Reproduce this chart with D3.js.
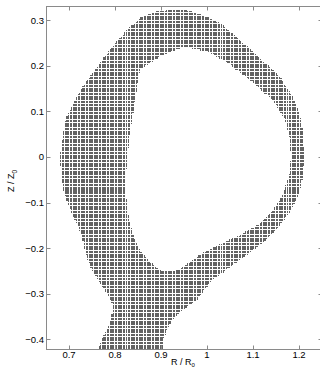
<!DOCTYPE html>
<html>
<head>
<meta charset="utf-8">
<script src="https://cdn.jsdelivr.net/npm/d3@7/dist/d3.min.js"></script>
<style>
  html, body { margin: 0; padding: 0; background: #fff; }
  svg { display: block; }
  text { font-family: Arial, "Liberation Sans", Helvetica, sans-serif; fill: #000; }
</style>
</head>
<body>
<svg id="chart" width="320" height="368"></svg>
<script>
// Outer boundary of the grid region (R/R0, Z/Z0), clockwise from the top
const outerR = [0.924, 0.952, 0.985, 1.028, 1.072, 1.115, 1.159, 1.187, 1.202, 1.209, 1.211, 1.209, 1.200, 1.180, 1.154, 1.120, 1.083, 1.046, 1.011, 0.978, 0.946, 0.924, 0.913, 0.904, 0.902,
                0.760, 0.763, 0.774, 0.785, 0.793, 0.796, 0.789, 0.778, 0.767, 0.750, 0.737, 0.728, 0.713, 0.698, 0.687, 0.683, 0.680, 0.685, 0.693, 0.713, 0.735, 0.761, 0.789, 0.822, 0.854, 0.887];
const outerZ = [0.324, 0.323, 0.313, 0.294, 0.256, 0.217, 0.175, 0.131, 0.092, 0.048, 0.000, -0.040, -0.083, -0.121, -0.156, -0.189, -0.217, -0.244, -0.270, -0.314, -0.336, -0.358, -0.380, -0.401, -0.445,
                -0.445, -0.421, -0.395, -0.373, -0.349, -0.327, -0.309, -0.292, -0.276, -0.248, -0.215, -0.171, -0.138, -0.105, -0.072, -0.040, 0.000, 0.037, 0.085, 0.125, 0.162, 0.197, 0.235, 0.274, 0.305, 0.318];

// Inner boundary (the empty core)
const innerR = [0.854, 0.898, 0.948, 1.000, 1.043, 1.093, 1.143, 1.170, 1.180, 1.183, 1.178, 1.165, 1.141, 1.111, 1.072, 1.033, 0.996, 0.963, 0.941, 0.920, 0.898, 0.876, 0.854, 0.839, 0.828, 0.824, 0.824, 0.828, 0.835, 0.843, 0.850];
const innerZ = [0.191, 0.221, 0.241, 0.232, 0.208, 0.169, 0.125, 0.081, 0.037, 0.000, -0.040, -0.083, -0.121, -0.149, -0.171, -0.189, -0.208, -0.230, -0.246, -0.252, -0.248, -0.230, -0.204, -0.171, -0.127, -0.083, -0.040, 0.015, 0.070, 0.125, 0.164];

// Grid spacing of the computational points
const gridStep = 0.0035;

const xTicks = [0.7, 0.8, 0.9, 1, 1.1, 1.2];
const yTicks = [-0.4, -0.3, -0.2, -0.1, 0, 0.1, 0.2, 0.3];
const xDomain = [0.65, 1.25];
const yDomain = [-0.421, 0.331];

const margin = { left: 46, top: 6, right: 322, bottom: 349 };
const svg = d3.select("#chart");

const x = d3.scaleLinear().domain(xDomain).range([margin.left, margin.right]);
const y = d3.scaleLinear().domain(yDomain).range([margin.bottom, margin.top]);

svg.append("defs").append("clipPath").attr("id", "plotClip")
  .append("rect")
  .attr("x", margin.left).attr("y", margin.top)
  .attr("width", margin.right - margin.left).attr("height", margin.bottom - margin.top);

const outerPoly = outerR.map((r, i) => [r, outerZ[i]]);
const innerPoly = innerR.map((r, i) => [r, innerZ[i]]);

// Regular grid points lying between the two boundaries
const pts = [];
const nR = Math.round((xDomain[1] - xDomain[0]) / gridStep);
const nZ = Math.round((yDomain[1] - yDomain[0] + 0.03) / gridStep);
for (let i = 0; i <= nR; i++) {
  const r = xDomain[0] + i * gridStep;
  for (let j = 0; j <= nZ; j++) {
    const z = yDomain[0] - 0.02 + j * gridStep;
    if (d3.polygonContains(outerPoly, [r, z]) && !d3.polygonContains(innerPoly, [r, z])) {
      pts.push([r, z]);
    }
  }
}

svg.append("g").attr("clip-path", "url(#plotClip)")
  .attr("shape-rendering", "crispEdges")
  .selectAll("rect").data(pts).join("rect")
  .attr("x", d => x(d[0]) - 0.6)
  .attr("y", d => y(d[1]) - 0.6)
  .attr("width", 1.2)
  .attr("height", 1.2)
  .attr("fill", "#626262");

// Box axes with inward ticks on all four sides
const axisColor = "#8a8a8a";
const tickLen = 4;
const fmt = d => (d < 0 ? "\u2212" : "") + d3.format("")(Math.abs(d));

const axes = svg.append("g");
axes.append("rect")
  .attr("x", margin.left + 0.5).attr("y", margin.top + 0.5)
  .attr("width", margin.right - margin.left).attr("height", margin.bottom - margin.top)
  .attr("fill", "none").attr("stroke", axisColor).attr("stroke-width", 1);

xTicks.forEach(t => {
  const px = Math.round(x(t)) + 0.5;
  axes.append("line").attr("x1", px).attr("x2", px)
    .attr("y1", margin.bottom + 0.5).attr("y2", margin.bottom + 0.5 - tickLen)
    .attr("stroke", axisColor);
  axes.append("line").attr("x1", px).attr("x2", px)
    .attr("y1", margin.top + 0.5).attr("y2", margin.top + 0.5 + tickLen)
    .attr("stroke", axisColor);
  axes.append("text").attr("x", x(t)).attr("y", 358)
    .attr("text-anchor", "middle").attr("font-size", 9.5)
    .text(fmt(t));
});

yTicks.forEach(t => {
  const py = Math.round(y(t)) + 0.5;
  axes.append("line").attr("x1", margin.left + 0.5).attr("x2", margin.left + 0.5 + tickLen)
    .attr("y1", py).attr("y2", py).attr("stroke", axisColor);
  axes.append("line").attr("x1", margin.right + 0.5).attr("x2", margin.right + 0.5 - tickLen)
    .attr("y1", py).attr("y2", py).attr("stroke", axisColor);
  axes.append("text").attr("x", 44).attr("y", y(t) + 3.4)
    .attr("text-anchor", "end").attr("font-size", 9.5)
    .text(fmt(t));
});

// Axis titles
const xl = svg.append("text").attr("x", 171).attr("y", 365).attr("font-size", 9);
xl.append("tspan").text("R / R");
xl.append("tspan").attr("dy", 2).attr("font-size", 6).text("0");

const yl = svg.append("text").attr("transform", "translate(14,192) rotate(-90)").attr("font-size", 9);
yl.append("tspan").text("Z / Z");
yl.append("tspan").attr("dy", 3).attr("font-size", 6.5).text("0");
</script>
</body>
</html>
